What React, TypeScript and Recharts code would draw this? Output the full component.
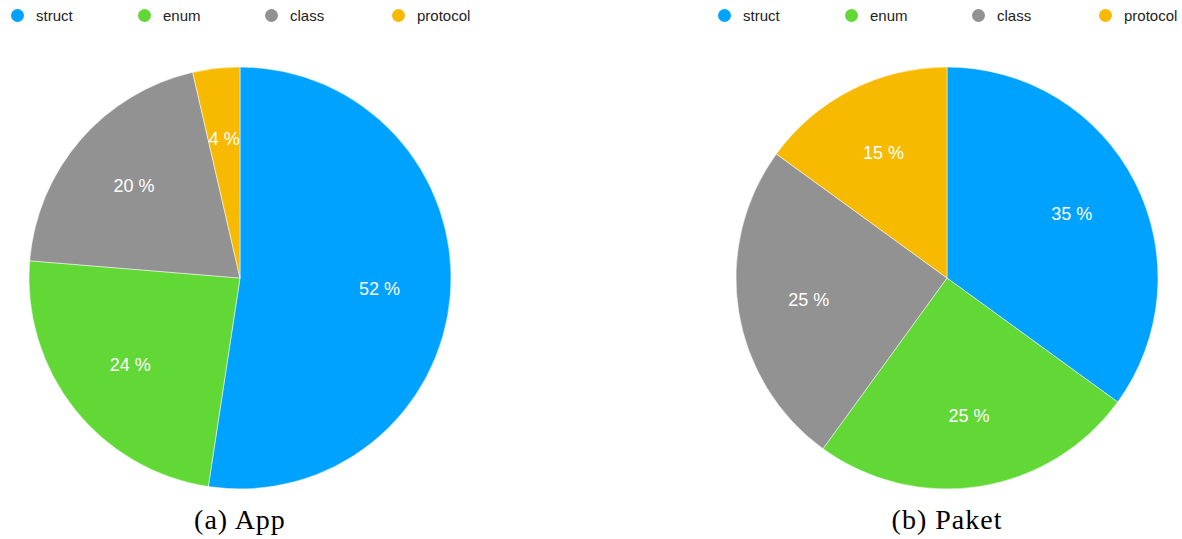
import React from 'react';
import { PieChart, Pie, Cell } from 'recharts';

const categories = ['struct', 'enum', 'class', 'protocol'];
const appShares = [52.4, 23.9, 20.1, 3.6];
const paketShares = [35, 25, 25, 15];
const captions = ['(a) App', '(b) Paket'];

const COLORS = ['#00a2ff', '#61d836', '#929292', '#f8ba00'];
const RADIAN = Math.PI / 180;

const renderLabel = (props: any) => {
  const { cx, cy, midAngle, value } = props;
  const r = 140;
  const x = cx + r * Math.cos(-midAngle * RADIAN);
  const y = cy + r * Math.sin(-midAngle * RADIAN);
  return (
    <text x={x} y={y} fill="#fff" textAnchor="middle" dominantBaseline="central"
      style={{ fontFamily: 'Liberation Sans, Arial, sans-serif', fontSize: 18 }}>
      {`${Math.round(value)} %`}
    </text>
  );
};

const LegendRow = () => (
  <div style={{ display: 'flex', fontFamily: 'Liberation Sans, Arial, sans-serif', fontSize: 15, color: '#222' }}>
    {categories.map((c, i) => (
      <div key={c} style={{ width: i === 3 ? 90 : 127, display: 'flex', alignItems: 'center' }}>
        <span style={{ display: 'inline-block', width: 13, height: 13, borderRadius: '50%', background: COLORS[i], marginLeft: 11, marginRight: 12 }} />
        <span>{c}</span>
      </div>
    ))}
  </div>
);

const SharePie = ({ shares, caption }: { shares: number[]; caption: string }) => {
  const data = categories.map((name, i) => ({ name, value: shares[i] }));
  return (
    <div style={{ position: 'relative', width: 480, height: 539 }}>
      <div style={{ position: 'absolute', top: 7, left: 0 }}>
        <LegendRow />
      </div>
      <div style={{ position: 'absolute', top: 0, left: 0 }}>
        <PieChart width={480} height={500} margin={{ top: 0, right: 0, bottom: 0, left: 0 }}>
          <Pie data={data} dataKey="value" cx={240} cy={278} outerRadius={211}
            startAngle={90} endAngle={-270} stroke="#fff" strokeWidth={0.5}
            label={renderLabel} labelLine={false} isAnimationActive={false}>
            {data.map((d, i) => <Cell key={d.name} fill={COLORS[i]} />)}
          </Pie>
        </PieChart>
      </div>
      <div style={{ position: 'absolute', top: 504, left: 0, width: 480, textAlign: 'center',
        fontFamily: 'Liberation Serif, serif', fontSize: 28, letterSpacing: 1, color: '#000' }}>
        {caption}
      </div>
    </div>
  );
};

export default function App() {
  return (
    <div style={{ position: 'absolute', top: 0, left: 0, width: 1182, height: 539, background: '#fff' }}>
      <div style={{ position: 'absolute', top: 0, left: 0 }}>
        <SharePie shares={appShares} caption={captions[0]} />
      </div>
      <div style={{ position: 'absolute', top: 0, left: 707 }}>
        <SharePie shares={paketShares} caption={captions[1]} />
      </div>
    </div>
  );
}
